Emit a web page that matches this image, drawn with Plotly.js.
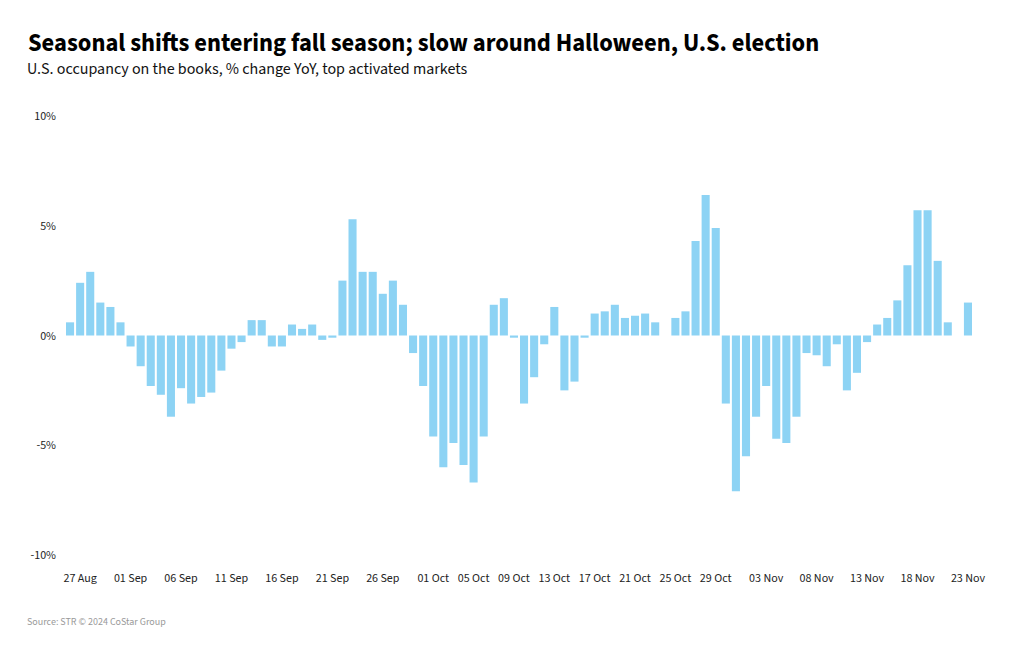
<!DOCTYPE html>
<html>
<head>
<meta charset="utf-8">
<script src="https://cdn.plot.ly/plotly-3.0.1.min.js"></script>
<style>html,body{margin:0;padding:0;background:#fff;}#chart{width:1020px;height:650px;}</style>
</head>
<body>
<div id="chart"></div>
<script>
const dates = [
  "26 Aug","27 Aug","28 Aug","29 Aug","30 Aug","31 Aug",
  "01 Sep","02 Sep","03 Sep","04 Sep","05 Sep","06 Sep","07 Sep","08 Sep","09 Sep","10 Sep",
  "11 Sep","12 Sep","13 Sep","14 Sep","15 Sep","16 Sep","17 Sep","18 Sep","19 Sep","20 Sep",
  "21 Sep","22 Sep","23 Sep","24 Sep","25 Sep","26 Sep","27 Sep","28 Sep","29 Sep","30 Sep",
  "01 Oct","02 Oct","03 Oct","04 Oct","05 Oct","06 Oct","07 Oct","08 Oct","09 Oct","10 Oct",
  "11 Oct","12 Oct","13 Oct","14 Oct","15 Oct","16 Oct","17 Oct","18 Oct","19 Oct","20 Oct",
  "21 Oct","22 Oct","23 Oct","24 Oct","25 Oct","26 Oct","27 Oct","28 Oct","29 Oct","30 Oct",
  "31 Oct","01 Nov","02 Nov","03 Nov","04 Nov","05 Nov","06 Nov","07 Nov","08 Nov","09 Nov",
  "10 Nov","11 Nov","12 Nov","13 Nov","14 Nov","15 Nov","16 Nov","17 Nov","18 Nov","19 Nov",
  "20 Nov","21 Nov","22 Nov","23 Nov"
];
const occupancyChange = [
  0.6, 2.4, 2.9, 1.5, 1.3, 0.6,
  -0.5, -1.4, -2.3, -2.7, -3.7, -2.4, -3.1, -2.8, -2.6, -1.6,
  -0.6, -0.3, 0.7, 0.7, -0.5, -0.5, 0.5, 0.3, 0.5, -0.2,
  -0.1, 2.5, 5.3, 2.9, 2.9, 1.9, 2.5, 1.4, -0.8, -2.3,
  -4.6, -6.0, -4.9, -5.9, -6.7, -4.6, 1.4, 1.7, -0.1, -3.1,
  -1.9, -0.4, 1.3, -2.5, -2.1, -0.1, 1.0, 1.1, 1.4, 0.8,
  0.9, 1.0, 0.6, null, 0.8, 1.1, 4.3, 6.4, 4.9, -3.1,
  -7.1, -5.5, -3.7, -2.3, -4.7, -4.9, -3.7, -0.8, -0.9, -1.4,
  -0.4, -2.5, -1.7, -0.3, 0.5, 0.8, 1.6, 3.2, 5.7, 5.7,
  3.4, 0.6, null, 1.5
];
const tickDates = ["27 Aug","01 Sep","06 Sep","11 Sep","16 Sep","21 Sep","26 Sep","01 Oct","05 Oct",
  "09 Oct","13 Oct","17 Oct","21 Oct","25 Oct","29 Oct","03 Nov","08 Nov","13 Nov","18 Nov","23 Nov"];
const yTickVals = [-10, -5, 0, 5, 10];
const yTickText = ["-10%", "-5%", "0%", "5%", "10%"];

const FONT = "'Source Sans Pro', 'Source Sans 3', Lato, 'Noto Sans', sans-serif";

const trace = {
  type: 'bar',
  x: dates,
  y: occupancyChange,
  marker: {color: '#8dd3f4'},
  hoverinfo: 'x+y'
};

const layout = {
  width: 1020, height: 650,
  paper_bgcolor: '#ffffff', plot_bgcolor: '#ffffff',
  margin: {l: 65, r: 47, t: 105, b: 84},
  showlegend: false,
  bargap: 0.2,
  font: {family: FONT, color: '#222'},
  title: {
    text: '<b>Seasonal shifts entering fall season; slow around Halloween, U.S. election</b>',
    xref: 'container', yref: 'container',
    x: 28/1020, xanchor: 'left',
    y: 1 - 42/650, yanchor: 'middle',
    font: {family: FONT, size: 24.5, color: '#000'}
  },
  xaxis: {
    type: 'category',
    range: [-0.5, 89.5],
    tickmode: 'array',
    tickvals: tickDates,
    ticktext: tickDates,
    showgrid: false, zeroline: false, showline: false,
    ticks: '',
    tickangle: 0,
    ticklabelstandoff: 3,
    tickfont: {family: FONT, size: 12, color: '#222'}
  },
  yaxis: {
    range: [-10.5, 10.5],
    tickmode: 'array',
    tickvals: yTickVals,
    ticktext: yTickText,
    showgrid: false, zeroline: false, showline: false,
    ticks: '',
    ticklabelstandoff: 8,
    tickfont: {family: FONT, size: 12, color: '#222'}
  },
  annotations: [
    {
      text: 'U.S. occupancy on the books, % change YoY, top activated markets',
      xref: 'paper', yref: 'paper',
      x: (28 - 65) / 907.8, xanchor: 'left', xshift: -3,
      y: (566 - 69) / 461, yanchor: 'middle',
      showarrow: false,
      font: {family: FONT, size: 16, color: '#111'}
    },
    {
      text: 'Source: STR © 2024 CoStar Group',
      xref: 'paper', yref: 'paper',
      x: (28 - 65) / 907.8, xanchor: 'left', xshift: -3,
      y: (566 - 622) / 461, yanchor: 'middle',
      showarrow: false,
      font: {family: FONT, size: 10, color: '#999'}
    }
  ]
};

Plotly.newPlot('chart', [trace], layout, {displayModeBar: false, staticPlot: true});
</script>
</body>
</html>
